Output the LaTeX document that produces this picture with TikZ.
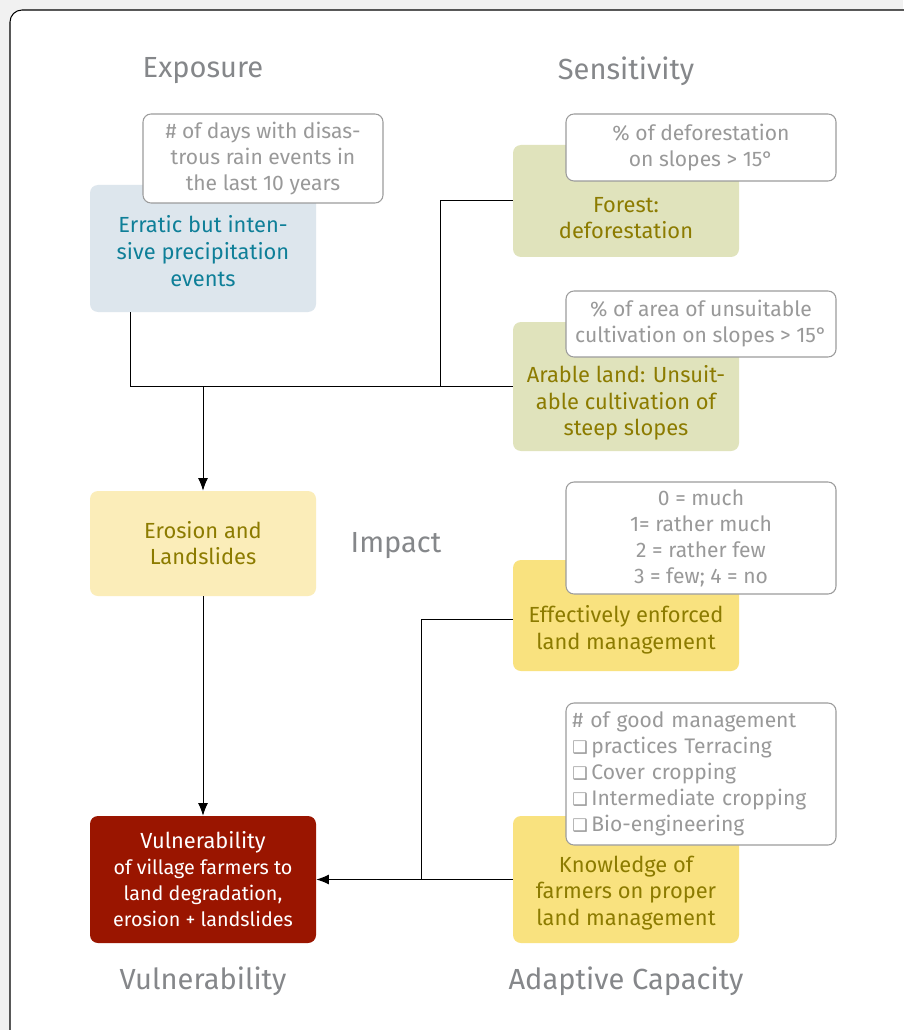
\documentclass[tikz,border=0pt]{standalone}
\usepackage{fontspec}
\setmainfont{Fira Sans}
\newfontfamily\boxsym{DejaVu Sans}
\usetikzlibrary{arrows.meta}
\definecolor{pagegray}{HTML}{F1F1F1}
\definecolor{titlegray}{HTML}{85878A}
\definecolor{indgray}{HTML}{9C9C9C}
\definecolor{indtext}{HTML}{999999}
\definecolor{expfill}{HTML}{DDE6ED}
\definecolor{exptext}{HTML}{0E7F98}
\definecolor{sensfill}{HTML}{E0E3BC}
\definecolor{olivetext}{HTML}{8C7B00}
\definecolor{impfill}{HTML}{FBEDB9}
\definecolor{adcfill}{HTML}{F9E27F}
\definecolor{vulfill}{HTML}{9A1500}
\newcommand{\chk}{{\boxsym\fontsize{13}{19.5}\selectfont ❑}\,}

\begin{document}
\begin{tikzpicture}[x=0.75pt,y=-0.75pt,
    box/.style={rectangle,rounded corners=6pt,minimum width=169.5pt,inner sep=0pt},
    boxtext/.style={align=center,font=\fontsize{16.4}{20}\selectfont},
    indicator/.style={rectangle,draw=indgray,fill=white,rounded corners=6pt,line width=0.8pt,
        text=indtext,align=center,font=\fontsize{15.8}{19.5}\selectfont,inner sep=0pt},
    heading/.style={text=titlegray,font=\fontsize{21.8}{24}\selectfont},
    link/.style={line width=0.75pt},
    >={Latex[length=9.5pt,width=7.5pt]}]
%    page and frame
    \useasboundingbox (0,0) rectangle (903,1030);
    \fill[pagegray] (0,0) rectangle (903,1030);
    \draw[fill=white,line width=0.8pt,rounded corners=9pt] (10,10) rectangle (940,1070);

    \node[heading](h-exposure)    at (203,71)  {Exposure};
    \node[heading](h-sensitivity) at (626,71)  {Sensitivity};
    \node[heading](h-impact)      at (396,546) {Impact};
    \node[heading](h-vulner)      at (203,981) {Vulnerability};
    \node[heading](h-adaptive)    at (626,981) {Adaptive Capacity};

    \node[box,fill=expfill,minimum height=95.25pt](rain)       at (203,248.5) {};
    \node[box,fill=sensfill,minimum height=84pt](forest)       at (626,201)   {};
    \node[box,fill=sensfill,minimum height=96.75pt](arable)    at (626,386.5) {};
    \node[box,fill=impfill,minimum height=78.75pt](erosion)    at (203,543.5) {};
    \node[box,fill=adcfill,minimum height=83.25pt](enforced)   at (626,615.5) {};
    \node[box,fill=adcfill,minimum height=95.25pt](knowledge)  at (626,879.5) {};
    \node[box,fill=vulfill,minimum height=95.25pt](vul)        at (203,879.5) {};

    \node[indicator,minimum width=180pt,minimum height=66.75pt](ind-rain) at (263,158.5)
        {\# of days with disas-\\trous rain events in\\the last 10 years};
    \node[indicator,minimum width=202.5pt,minimum height=50.25pt](ind-forest) at (701,147.5)
        {\% of deforestation\\on slopes > 15°};
    \node[indicator,minimum width=202.5pt,minimum height=49.5pt](ind-arable) at (701,324)
        {\% of area of unsuitable\\cultivation on slopes > 15°};
    \node[indicator,minimum width=202.5pt,minimum height=84pt](ind-enforced) at (701,538)
        {0 = much\\1= rather much\\2 = rather few\\3 = few; 4 = no};
    \node[indicator,minimum width=202.5pt,minimum height=106.5pt,align=left,text width=193pt](ind-knowledge) at (701,774)
        {\# of good management\\\chk practices Terracing\\\chk Cover cropping\\\chk Intermediate cropping\\\chk Bio-engineering};

    \node[boxtext,text=exptext](rain-txt)        at (203,251) {Erratic but inten-\\sive precipitation\\events};
    \node[boxtext,text=olivetext](forest-txt)    at (626,218) {Forest:\\deforestation};
    \node[boxtext,text=olivetext](arable-txt)    at (626,403) {Arable land: Unsuit-\\able cultivation of\\steep slopes};
    \node[boxtext,text=olivetext](erosion-txt)   at (203,543) {Erosion and\\Landslides};
    \node[boxtext,text=olivetext](enforced-txt)  at (626,630) {Effectively enforced\\land management};
    \node[boxtext,text=olivetext](knowledge-txt) at (626,893) {Knowledge of\\farmers on proper\\land management};
    \node[boxtext,text=white,font=\fontsize{14.8}{19.5}\selectfont](vul-txt) at (203,879)
        {{\fontsize{16.4}{20}\selectfont Vulnerability}\\of village farmers to\\land degradation,\\erosion + landslides};

    \coordinate (rainfoot)   at (130,387);
    \coordinate (forestbend) at (440,387);
    \coordinate (erofork)    at (203,387);
    \coordinate (adaptbend)  at (421,880);

    \draw[link]    (rain.south -| rainfoot) |- (arable.west);
    \draw[link]    (forest.west) -| (forestbend);
    \draw[link,->] (erofork) to (erosion.north);
    \draw[link,->] (erosion) to (vul);
    \draw[link]    ([yshift=-3pt]enforced.west) -| (adaptbend);
    \draw[link,->] (knowledge) to (vul);
\end{tikzpicture}
\end{document}
